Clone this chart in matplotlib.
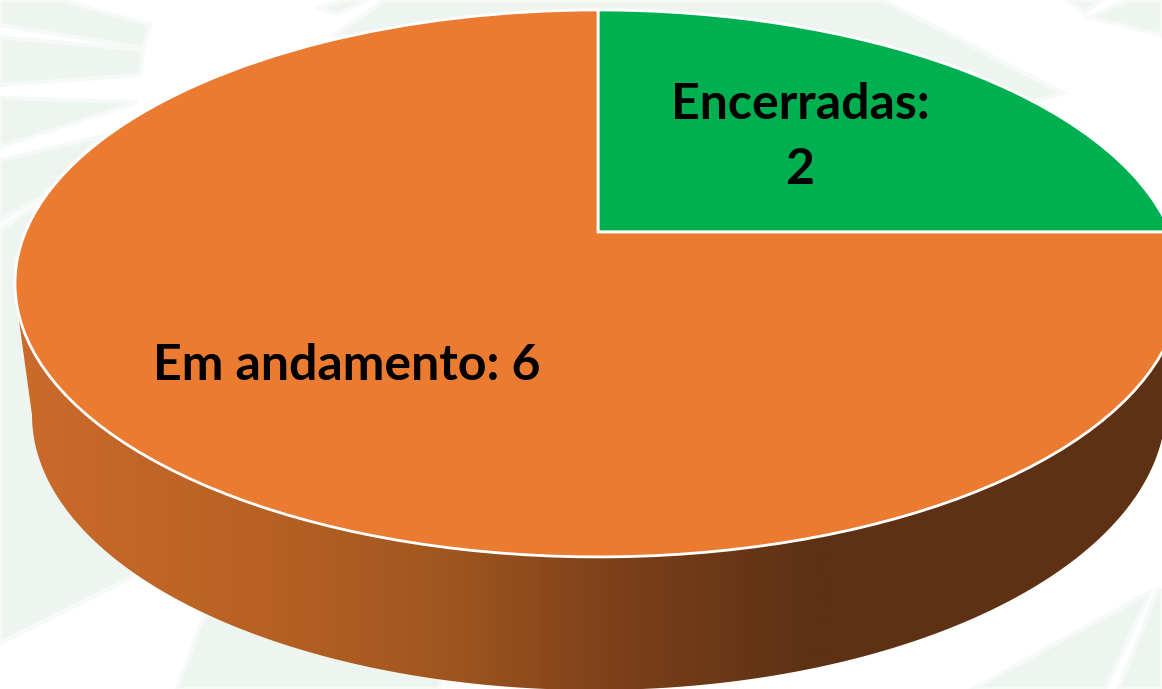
import numpy as np
import matplotlib
matplotlib.use("Agg")
import matplotlib.pyplot as plt
from matplotlib.colors import LinearSegmentedColormap
from matplotlib.patches import Polygon
from matplotlib.transforms import Transform

# --- DATA ---
categories = ["Encerradas", "Em andamento"]
values = [2, 6]
colors = ["#00AF50", "#EB7B30"]

# --- GEOMETRY (pixels of the picture) ---
APEX_X, APEX_Y = 598, 232
PERSP = -0.188
RADIUS_X, RADIUS_Y = 572.6, 263.8
TOP_CX, TOP_CY, TOP_A = 598, 283.5, 583
BOT_CX = 594
PALE = "#EEF5F0"


class TiltedPie(Transform):
    """Maps the unit pie circle onto the tilted disc seen in the picture."""
    input_dims = 2
    output_dims = 2
    is_separable = False
    has_inverse = False

    def transform_non_affine(self, values):
        values = np.asarray(values)
        u = values[:, 0]
        v = -values[:, 1]
        w = 1 + PERSP * v
        return np.column_stack((APEX_X + RADIUS_X * u / w, APEX_Y + RADIUS_Y * v / w))


fig = plt.figure(figsize=(11.62, 6.89), dpi=100, facecolor="white")
ax = fig.add_axes([0, 0, 1, 1])

# faint rays of the slide background
rays = [
    [(0, 0), (60, 0), (150, 25), (143, 48), (0, 25)],
    [(0, 37), (143, 50), (140, 75), (0, 85)],
    [(0, 98), (137, 102), (0, 147)],
    [(0, 160), (100, 137), (43, 197), (0, 220)],
    [(0, 230), (33, 207), (60, 300), (80, 450), (133, 577), (0, 643)],
    [(210, 600), (440, 670), (440, 689), (177, 689)],
    [(320, 8), (345, 0), (368, 0), (338, 14)],
    [(385, 0), (883, 0), (1063, 93), (1017, 107), (600, 60), (335, 35)],
    [(1068, 0), (1100, 0), (1085, 13)],
    [(1130, 0), (1162, 0), (1162, 35), (1090, 17)],
    [(973, 689), (1150, 592), (1105, 689)],
    [(1118, 689), (1158, 590), (1162, 590), (1162, 689)],
]
for ray in rays:
    ax.add_patch(Polygon(ray, closed=True, facecolor=PALE, edgecolor="#F6FAF7", linewidth=3, zorder=0))

# side wall with horizontal shading, the right half bulges a bit more
t_left = np.linspace(np.pi, np.pi / 2, 120)
t_right = np.linspace(np.pi / 2, 0, 120)
wall_pts = np.vstack((
    [[TOP_CX - TOP_A + 1, TOP_CY + 15]],
    np.column_stack((BOT_CX + 562 * np.cos(t_left), 415 + 275 * np.sin(t_left))),
    np.column_stack((BOT_CX + 572 * np.cos(t_right), 405 + 285 * np.sin(t_right))),
    [[TOP_CX + TOP_A, TOP_CY]],
))
wall = Polygon(wall_pts, closed=True, facecolor="none", edgecolor="none", zorder=1)
ax.add_patch(wall)
shade = LinearSegmentedColormap.from_list(
    "wall", [(0, "#CB6B2C"), (0.33, "#B56023"), (0.53, "#A0561F"), (0.75, "#7A3F19"), (0.98, "#5E3114"), (1, "#5E3114")]
)
im = ax.imshow(np.linspace(0, 1, 512)[None, :], cmap=shade, extent=(15, 830, 689, 0),
               aspect="auto", zorder=1)
im.set_clip_path(wall)
wall_dark = ax.add_patch(Polygon([(830, 232), (1162, 232), (1162, 689), (830, 689)],
                                 closed=True, facecolor="#5E3114", edgecolor="none", zorder=1))
wall_dark.set_clip_path(wall)

# top of the pie
ax.pie(values, colors=colors, startangle=90, counterclock=False,
       wedgeprops={"transform": TiltedPie() + ax.transData, "edgecolor": "white",
                   "linewidth": 2, "zorder": 2})

# labels
label_font = {"family": "Lato", "weight": "bold", "size": 36, "color": "black", "zorder": 3,
              "ha": "center", "va": "center"}
ax.text(800, 137, f"{categories[0]}:\n{values[0]}", linespacing=1.54, **label_font)
ax.text(347, 366, f"{categories[1]}: {values[1]}", **label_font)

ax.set_aspect("auto")
ax.set_xlim(0, 1162)
ax.set_ylim(689, 0)
ax.axis("off")

fig.savefig("out.png", dpi=100, facecolor="white")
